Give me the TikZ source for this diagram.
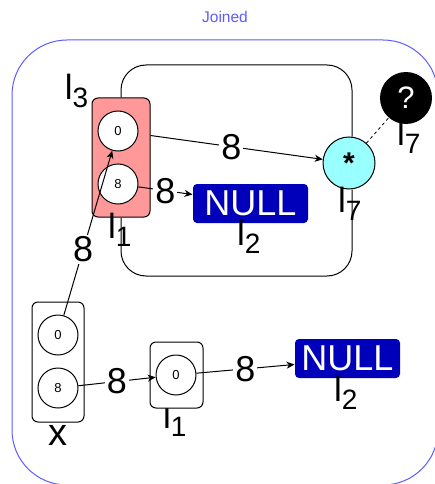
\documentclass[tikz,border=0pt]{standalone}
\usepackage{fontspec}
\setmainfont{Liberation Sans}
\usetikzlibrary{arrows.meta}
\definecolor{joinblue}{HTML}{5C5CFF}
\definecolor{slotpink}{HTML}{FF9999}
\definecolor{starcyan}{HTML}{99FFFF}
\definecolor{nullblue}{HTML}{0000BB}
\newcommand{\fsz}[1]{\fontsize{#1}{#1}\selectfont}
\newcommand{\lsub}[1]{l\raisebox{-8pt}{\fsz{28}#1}}

\begin{document}
\begin{tikzpicture}[x=1pt, y=-1pt, line width=1pt,
  slot/.style={circle, draw, fill=white, minimum size=40pt, inner sep=0pt, font=\fsz{13}},
  cell/.style={draw, rounded corners=6pt, inner sep=0pt},
  nullbox/.style={fill=nullblue, text=white, rounded corners=4pt, minimum height=39pt, inner sep=0pt, font=\fsz{36}},
  lab/.style={inner sep=0pt, font=\fsz{35}},
  wt/.style={fill=white, inner sep=2pt, font=\fsz{36}},
  ptr/.style={-{Stealth[length=8pt,width=7pt,inset=2.5pt]}}]
\useasboundingbox (0,0) rectangle (434,484);
\draw[joinblue, rounded corners=55pt] (12,40) rectangle (438,485);
\node[font=\fsz{15.5}, text=joinblue, anchor=base] (title) at (225,23) {Joined};

% joined node l3 and its targets
\node[cell, fill=slotpink, minimum width=58pt, minimum height=119pt] (l3box) at (121,157.5) {};
\node[slot] (l3c0) at (118,131) {0};
\node[slot] (l3c8) at (118,184) {8};
\node[circle, draw, fill=starcyan, minimum size=52pt, inner sep=0pt, font=\fsz{30}\bfseries] (star) at (349,163) {*};
\node[circle, fill=black, text=white, minimum size=52pt, inner sep=0pt, font=\fsz{31}] (qm) at (406,98) {?};
\node[nullbox, minimum width=115pt] (null1) at (250.5,203.5) {NULL};

% x and the list below
\node[cell, minimum width=52pt, minimum height=120pt] (xbox) at (58,362) {};
\node[slot] (xc0) at (58,335) {0};
\node[slot] (xc8) at (58,388) {8};
\node[lab, anchor=base west] (l1blbl) at (162.7,428) {\lsub{1}};
\node[cell, fill=white, minimum width=53pt, minimum height=66pt] (l1box) at (176.5,375) {};
\node[slot] (l1c0) at (176,375) {0};
\node[nullbox, minimum width=105pt] (null2) at (347.5,358.5) {NULL};

% loop round l3
\coordinate (loopt) at (236,65);
\coordinate (loopb) at (236,276);
\draw[rounded corners=25pt] (l3box.north) |- (loopt) -| ([xshift=3pt]star.north);
\draw[rounded corners=25pt] (l3box.south) |- (loopb) -| ([xshift=3pt]star.south);

% pointers
\draw[ptr] ([yshift=-4.5pt]l3box.east |- l3c0) -- node[wt, pos=0.47] {8} (star);
\draw[ptr] (l3c8) -- node[wt, pos=0.5] {8} ([yshift=9pt]null1.west);
\draw[ptr] (xc0) -- node[wt, pos=0.4] {8} (l3c0);
\draw[ptr] (xc8) -- node[wt, pos=0.5] {8} (l1c0);
\draw[ptr] (l1c0) -- node[wt, pos=0.5] {8} ([yshift=-6pt]null2.west);
\draw[dash pattern=on 3pt off 3pt, line width=0.8pt] (star) -- (qm);

% names
\node[lab, anchor=base west] (l3lbl) at (64.4,100) {\lsub{3}};
\node[lab, anchor=base west] (l1lbl) at (107.7,238) {\lsub{1}};
\node[lab, anchor=base west] (l2lbl) at (236.7,245) {\lsub{2}};
\node[lab, anchor=base west] (l7lbl) at (337.7,212) {\lsub{7}};
\node[lab, anchor=base west] (l7qlbl) at (396.7,146) {\lsub{7}};
\node[lab, anchor=base west] (l2blbl) at (333.7,401) {\lsub{2}};
\node[inner sep=0pt, font=\fsz{38}, anchor=base] (xlbl) at (58,445) {x};
\end{tikzpicture}
\end{document}
